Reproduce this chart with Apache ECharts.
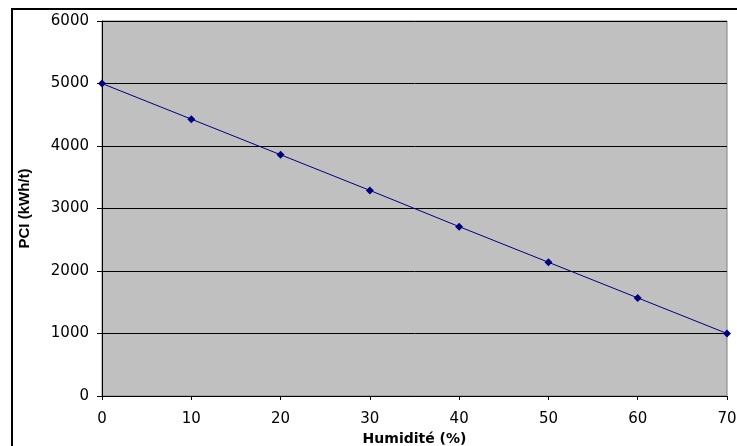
<!DOCTYPE html>
<html><head><meta charset="utf-8">
<script src="https://cdn.jsdelivr.net/npm/echarts@6/dist/echarts.min.js"></script>
<style>html,body{margin:0;padding:0;background:#fff}#c{width:737px;height:446px}
#b{position:absolute;left:11px;top:8px;width:740px;height:450px;border-left:2px solid #000;border-top:2px solid #000;box-sizing:border-box;pointer-events:none}</style>
</head><body><div id="c"></div><div id="b"></div>
<script>
var humidity = [0, 10, 20, 30, 40, 50, 60, 70];
var pci = [5000, 4430, 3860, 3290, 2710, 2140, 1570, 1000];
var xTitle = 'Humidité (%)';
var yTitle = 'PCI (kWh/t)';
var chart = echarts.init(document.getElementById('c'));
var pts = humidity.map(function(h, i){ return [h, pci[i]]; });
chart.setOption({
  animation: false,
  backgroundColor: '#fff',
  grid: {left: 102, top: 21, right: 10, bottom: 50, outerBoundsMode: 'none', containLabel: false,
    show: true, backgroundColor: '#c0c0c0', borderColor: '#808080', borderWidth: 1},
  xAxis: {type: 'value', min: 0, max: 70, interval: 10,
    name: xTitle, nameLocation: 'middle', nameGap: 33,
    nameTextStyle: {fontFamily: 'DejaVu Sans', fontWeight: 'bold', fontSize: 14, color: '#000'},
    axisLine: {show: true, lineStyle: {color: '#000', width: 1}},
    axisTick: {show: true, length: 4, lineStyle: {color: '#000'}},
    axisLabel: {fontFamily: 'DejaVu Sans', fontSize: 15, color: '#000', margin: 16,
      formatter: function(v){ return String(v); }},
    splitLine: {show: false}},
  yAxis: {type: 'value', min: 0, max: 6000, interval: 1000,
    name: yTitle, nameLocation: 'middle', nameGap: 70, nameRotate: 90,
    nameTextStyle: {fontFamily: 'Liberation Sans', fontWeight: 'bold', fontSize: 15, color: '#000'},
    axisLine: {show: true, lineStyle: {color: '#000', width: 1}},
    axisTick: {show: true, length: 5, lineStyle: {color: '#000'}},
    axisLabel: {fontFamily: 'DejaVu Sans', fontSize: 15, color: '#000', margin: 13,
      formatter: function(v){ return String(v); }},
    splitLine: {show: true, lineStyle: {color: '#000', width: 1}}},
  series: [{type: 'line', data: pts, symbol: 'diamond', symbolSize: 8,
    lineStyle: {color: '#000080', width: 1}, itemStyle: {color: '#000080'}}]
});
</script></body></html>
